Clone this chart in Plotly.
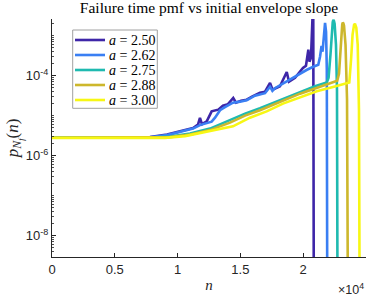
import plotly.graph_objects as go

# ---- data (n, p_Nf(n)) ----
labels = ["2.50", "2.62", "2.75", "2.88", "3.00"]
colors = ["#3E26A8", "#3A7FF3", "#1FBAB0", "#CDB72C", "#F7F714"]

n_250 = [0, 5410, 7800, 9160, 10190, 11230, 11620, 11780, 11940, 12320, 12710, 13240,
         13610, 14010, 14430, 14650, 15050, 15500, 15920, 16560, 16960, 17360, 17560,
         18150, 18690, 18870, 19350, 19980, 20220, 20410, 20500, 20620, 20740, 20800, 20860]
p_250 = [2.8e-6, 2.8e-6, 2.9e-6, 3.35e-6, 4.0e-6, 4.9e-6, 5.96e-6, 8.76e-6, 6.1e-6, 7.2e-6,
         1.28e-5, 1.41e-5, 1.78e-5, 1.94e-5, 2.77e-5, 2.11e-5, 2.37e-5, 2.51e-5, 2.99e-5,
         3.76e-5, 3.98e-5, 6.57e-5, 4.47e-5, 5.46e-5, 1.24e-4, 7.08e-5, 8.91e-5, 1.56e-4,
         1.78e-4, 4.47e-4, 2.24e-4, 2.82e-4, 2.8e-3, 4.5e-3, 1e-12]

n_262 = [0, 5410, 7800, 9160, 10190, 11230, 11780, 12260, 12710, 12980, 13380, 13770,
         14410, 14970, 15500, 16160, 16960, 17360, 17550, 17750, 18550, 19110, 19750,
         20300, 20800, 21200, 21340, 21460, 21540, 21660, 21740, 21820, 21880, 21930]
p_262 = [2.8e-6, 2.8e-6, 2.85e-6, 3.25e-6, 3.87e-6, 4.73e-6, 5.79e-6, 6.5e-6, 7.08e-6,
         8.9e-6, 1.37e-5, 1.63e-5, 2.11e-5, 2.24e-5, 2.44e-5, 3.16e-5, 3.65e-5, 5.3e-5,
         4.17e-5, 4.87e-5, 6.88e-5, 8.41e-5, 1.12e-4, 1.41e-4, 1.68e-4, 1.88e-4, 2.99e-4,
         5.6e-4, 3.98e-4, 1.41e-3, 2.11e-3, 1.26e-3, 1.41e-4, 1e-12]

n_275 = [0, 7800, 9390, 10990, 12580, 14170, 15370, 16560, 18150, 19750, 20940, 21870,
         22020, 22170, 22290, 22350, 22400, 22450, 22500, 22610, 22690, 22750]
p_275 = [2.8e-6, 2.82e-6, 2.99e-6, 3.55e-6, 4.73e-6, 7.72e-6, 1.12e-5, 1.54e-5, 2.44e-5,
         3.98e-5, 5.46e-5, 6.8e-5, 8.91e-5, 3.35e-4, 1.41e-3, 2.2e-3, 2.51e-3, 2.35e-3,
         2.0e-3, 5.96e-4, 4.47e-5, 1e-12]

n_288 = [0, 7800, 9390, 10990, 12580, 14170, 15370, 16560, 18150, 19750, 21340, 22710,
         22850, 22970, 23070, 23110, 23150, 23200, 23250, 23370, 23490, 23590]
p_288 = [2.8e-6, 2.8e-6, 2.9e-6, 3.35e-6, 4.34e-6, 6.68e-6, 1.0e-5, 1.37e-5, 2.24e-5,
         3.55e-5, 5.31e-5, 7.5e-5, 1.12e-4, 5.3e-4, 1.58e-3, 1.95e-3, 2.15e-3, 2.05e-3,
         1.78e-3, 5.96e-4, 2.51e-5, 1e-12]

n_300 = [0, 9000, 10590, 11780, 12980, 14410, 15760, 17090, 18390, 19750, 21080, 22370,
         23460, 23670, 23810, 23930, 24050, 24120, 24230, 24340, 24440, 24520]
p_300 = [2.78e-6, 2.77e-6, 3.07e-6, 3.69e-6, 4.47e-6, 5.4e-6, 8.9e-6, 1.28e-5, 2.0e-5,
         2.93e-5, 4.1e-5, 5.22e-5, 6.3e-5, 6.8e-5, 2.51e-4, 1.06e-3, 1.88e-3, 2.0e-3,
         1.58e-3, 5.96e-4, 1.41e-5, 1e-12]

x_tickvals = [0, 5000, 10000, 15000, 20000, 25000]
x_ticktext = ["0", "0.5", "1", "1.5", "2", "2.5"]
y_tickvals = [1e-8, 1e-6, 1e-4]
y_ticktext = ["10<sup>-8</sup>", "10<sup>-6</sup>", "10<sup>-4</sup>"]

series_n = [n_250, n_262, n_275, n_288, n_300]
series_p = [p_250, p_262, p_275, p_288, p_300]

fig = go.Figure()
for lab, col, xs, ys in zip(labels, colors, series_n, series_p):
    fig.add_trace(go.Scatter(x=xs, y=ys, mode="lines", name="a = " + lab,
                             line=dict(color=col, width=2.6), showlegend=False,
                             hoverinfo="skip"))

axis_col = "#262626"
sans = "Liberation Sans, Arial, sans-serif"
tick_font = dict(family=sans, size=13, color=axis_col)
serif = "Liberation Serif, Times New Roman, serif"

minor_y = []
for e in range(-9, -2):
    for k in range(1, 10):
        v = k * 10.0 ** e
        if 10 ** -8.54 <= v <= 10 ** -2.58 and v not in y_tickvals:
            minor_y.append(v)

fig.update_layout(
    width=374, height=299,
    margin=dict(l=52, r=8, t=19, b=42, autoexpand=False),
    paper_bgcolor="white", plot_bgcolor="white",
    title=dict(text="Failure time pmf vs initial envelope slope",
               font=dict(family=serif, size=15.5, color="black"),
               x=0.5, xref="paper", xanchor="center",
               y=1 - 7.5 / 299, yref="container", yanchor="middle"),
    xaxis=dict(range=[0, 25000], tickmode="array", tickvals=x_tickvals, ticktext=x_ticktext,
               ticks="inside", ticklen=4, tickcolor=axis_col, tickwidth=1,
               showline=True, linecolor=axis_col, linewidth=1, mirror=False,
               showgrid=False, zeroline=False, tickfont=tick_font, automargin=False,
               title=dict(text="<i>n</i>", font=dict(family=serif, size=15, color=axis_col),
                          standoff=3)),
    yaxis=dict(type="log", range=[-8.54, -2.58], tickmode="array", tickvals=y_tickvals,
               ticktext=y_ticktext, ticks="inside", ticklen=4, tickcolor=axis_col,
               tickwidth=1, showline=True, linecolor=axis_col, linewidth=1, mirror=False,
               showgrid=False, zeroline=False, tickfont=tick_font, automargin=False,
               minor=dict(tickmode="array", tickvals=minor_y, ticks="inside", ticklen=2,
                          tickcolor=axis_col, tickwidth=0.8, showgrid=False),
               title=dict(text="<i>p</i><sub><i>N</i><sub><i>f</i></sub></sub>(<i>n</i>)",
                          font=dict(family=serif, size=17, color=axis_col), standoff=2)),
)

# x-axis multiplier
fig.add_annotation(text="×10<sup>4</sup>", xref="paper", yref="paper", x=1.0, y=-0.175,
                   xanchor="right", yanchor="bottom", showarrow=False,
                   font=dict(family=sans, size=12.5, color=axis_col))

# legend box (drawn to match MATLAB spacing)
def px_x(px):
    return (px - 52) / 314.0

def px_y(py):
    return (257.0 - py) / 238.0

fig.add_shape(type="rect", xref="paper", yref="paper",
              x0=px_x(72.7), x1=px_x(157.3), y0=px_y(108.3), y1=px_y(30),
              line=dict(color="#A0A0A0", width=1), fillcolor="white", layer="above")
for i, (lab, col) in enumerate(zip(labels, colors)):
    yy = px_y(40 + 15 * i)
    fig.add_shape(type="line", xref="paper", yref="paper",
                  x0=px_x(75), x1=px_x(105), y0=yy, y1=yy,
                  line=dict(color=col, width=2.6), layer="above")
    fig.add_annotation(text="<i>a</i> = " + lab, xref="paper", yref="paper",
                       x=px_x(106.5), y=yy, xanchor="left", yanchor="middle",
                       showarrow=False,
                       font=dict(family=serif, size=14, color="black"))

fig.write_html("out.html", config={"displayModeBar": False, "staticPlot": True},
               post_script="document.body.style.margin='0';document.body.style.padding='0';"
                           "document.body.style.overflow='hidden';")
